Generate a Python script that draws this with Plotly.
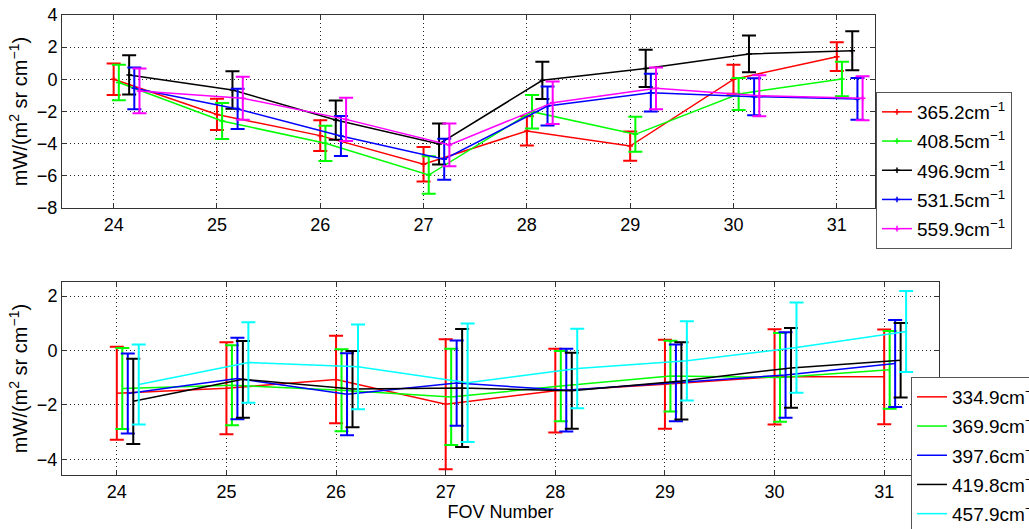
import plotly.graph_objects as go

W, H = 1029, 529

# ---------------- data ----------------
fov = [24, 25, 26, 27, 28, 29, 30, 31]

# top panel
top_names = ["365.2cm<sup>−1</sup>", "408.5cm<sup>−1</sup>", "496.9cm<sup>−1</sup>",
             "531.5cm<sup>−1</sup>", "559.9cm<sup>−1</sup>"]
top_colors = ["#ff0000", "#00ff00", "#000000", "#0000ff", "#ff00ff"]
top_offsets = [0.0, 0.05, 0.15, 0.2, 0.25]
top_365 = [0.0, -2.18, -3.5, -5.28, -3.21, -4.15, 0.0, 1.41]
top_365_err = [0.98, 0.97, 0.95, 1.08, 0.91, 0.91, 0.9, 0.89]
top_408 = [-0.2, -2.59, -3.98, -5.95, -2.01, -3.42, -0.91, 0.02]
top_408_err = [1.1, 1.12, 1.1, 1.16, 1.04, 1.09, 1.0, 1.07]
top_496 = [0.27, -0.66, -2.53, -4.02, -0.06, 0.68, 1.58, 1.78]
top_496_err = [1.22, 1.17, 1.22, 1.28, 1.16, 1.16, 1.14, 1.21]
top_531 = [-0.56, -1.84, -3.52, -4.97, -1.66, -0.83, -1.08, -1.22]
top_531_err = [1.3, 1.25, 1.24, 1.28, 1.21, 1.17, 1.15, 1.3]
top_559 = [-0.72, -1.18, -2.49, -4.08, -1.45, -0.56, -1.02, -1.18]
top_559_err = [1.39, 1.34, 1.34, 1.33, 1.32, 1.3, 1.27, 1.37]

# bottom panel
bot_names = ["334.9cm<sup>−1</sup>", "369.9cm<sup>−1</sup>", "397.6cm<sup>−1</sup>",
             "419.8cm<sup>−1</sup>", "457.9cm<sup>−1</sup>"]
bot_colors = ["#ff0000", "#00ff00", "#0000ff", "#000000", "#00ffff"]
bot_offsets = [0.0, 0.05, 0.1, 0.15, 0.2]
bot_334 = [-1.57, -1.39, -1.07, -1.98, -1.48, -1.24, -0.97, -0.97]
bot_334_err = [1.71, 1.69, 1.61, 2.39, 1.54, 1.64, 1.75, 1.74]
bot_369 = [-1.40, -1.28, -1.46, -1.71, -1.31, -0.94, -0.99, -0.71]
bot_369_err = [1.49, 1.47, 1.51, 1.77, 1.29, 1.30, 1.63, 1.43]
bot_397 = [-1.58, -1.03, -1.61, -1.20, -1.46, -1.19, -0.90, -0.48]
bot_397_err = [1.47, 1.5, 1.51, 1.57, 1.52, 1.41, 1.57, 1.6]
bot_419 = [-1.87, -1.06, -1.42, -1.38, -1.48, -1.12, -0.64, -0.36]
bot_419_err = [1.57, 1.41, 1.40, 2.17, 1.40, 1.42, 1.47, 1.37]
bot_457 = [-1.25, -0.44, -0.60, -1.19, -0.66, -0.38, 0.11, 0.70]
bot_457_err = [1.47, 1.48, 1.56, 2.18, 1.46, 1.46, 1.66, 1.49]

top_vals = [top_365, top_408, top_496, top_531, top_559]
top_errs = [top_365_err, top_408_err, top_496_err, top_531_err, top_559_err]
bot_vals = [bot_334, bot_369, bot_397, bot_419, bot_457]
bot_errs = [bot_334_err, bot_369_err, bot_397_err, bot_419_err, bot_457_err]

FONT = "Liberation Sans, Arial, Helvetica, sans-serif"

fig = go.Figure()

for i in range(5):
    fig.add_trace(go.Scatter(
        x=[f + top_offsets[i] for f in fov], y=top_vals[i],
        mode="lines+markers", name=top_names[i],
        line=dict(color=top_colors[i], width=1.5),
        marker=dict(symbol="cross-thin", size=4, color=top_colors[i],
                    line=dict(color=top_colors[i], width=1.5)),
        error_y=dict(type="data", array=top_errs[i], visible=True,
                     color=top_colors[i], thickness=2, width=7),
        xaxis="x", yaxis="y", legend="legend", legendgroup="t%d" % i,
    ))

for i in range(5):
    fig.add_trace(go.Scatter(
        x=[f + bot_offsets[i] for f in fov], y=bot_vals[i],
        mode="lines", name=bot_names[i],
        line=dict(color=bot_colors[i], width=1.5),
        error_y=dict(type="data", array=bot_errs[i], visible=True,
                     color=bot_colors[i], thickness=2, width=7),
        xaxis="x2", yaxis="y2", legend="legend2", legendgroup="b%d" % i,
    ))

def px_x(p):
    return p / W

def px_y(p):
    return 1 - p / H

axis_common = dict(
    showline=True, linecolor="#333333", linewidth=1, mirror="allticks",
    ticks="inside", ticklen=5, tickcolor="#333333",
    showgrid=True, gridcolor="#222222", griddash="1px,3px", gridwidth=1,
    zeroline=False, tickfont=dict(family=FONT, size=18, color="#000000"),
    automargin=False,
)

yt = "mW/(m<sup>2</sup> sr cm<sup>−1</sup>)"

fig.update_layout(
    width=W, height=H,
    margin=dict(l=0, r=0, t=0, b=0, autoexpand=False),
    paper_bgcolor="white", plot_bgcolor="white",
    font=dict(family=FONT, size=18, color="#000000"),
    xaxis=dict(domain=[px_x(62), px_x(875)], range=[23.5, 31.37],
               tickmode="array", tickvals=fov, anchor="y", **axis_common),
    yaxis=dict(domain=[px_y(208), px_y(15)], range=[-8, 4], dtick=2, anchor="x",
               title=dict(text=yt, standoff=3, font=dict(family=FONT, size=20)),
               **axis_common),
    xaxis2=dict(domain=[px_x(62), px_x(939)], range=[23.5, 31.5],
                tickmode="array", tickvals=fov, anchor="y2",
                title=dict(text="FOV Number", standoff=0, font=dict(family=FONT, size=18)),
                **axis_common),
    yaxis2=dict(domain=[px_y(475), px_y(282)], range=[-4.58, 2.52], dtick=2, anchor="x2",
                title=dict(text=yt, standoff=3, font=dict(family=FONT, size=20)),
                **axis_common),
    legend=dict(x=px_x(876), y=px_y(92), xanchor="left", yanchor="top",
                bgcolor="white", bordercolor="#555555", borderwidth=1,
                font=dict(family=FONT, size=19), tracegroupgap=1.5,
                itemwidth=30),
    legend2=dict(x=px_x(911), y=px_y(377), xanchor="left", yanchor="top",
                 bgcolor="white", bordercolor="#555555", borderwidth=1,
                 font=dict(family=FONT, size=19), tracegroupgap=1.5,
                 itemwidth=30),
)

fig.write_html("out.html", config={"displayModeBar": False},
               post_script="document.body.style.margin='0';document.body.style.overflow='hidden';")
